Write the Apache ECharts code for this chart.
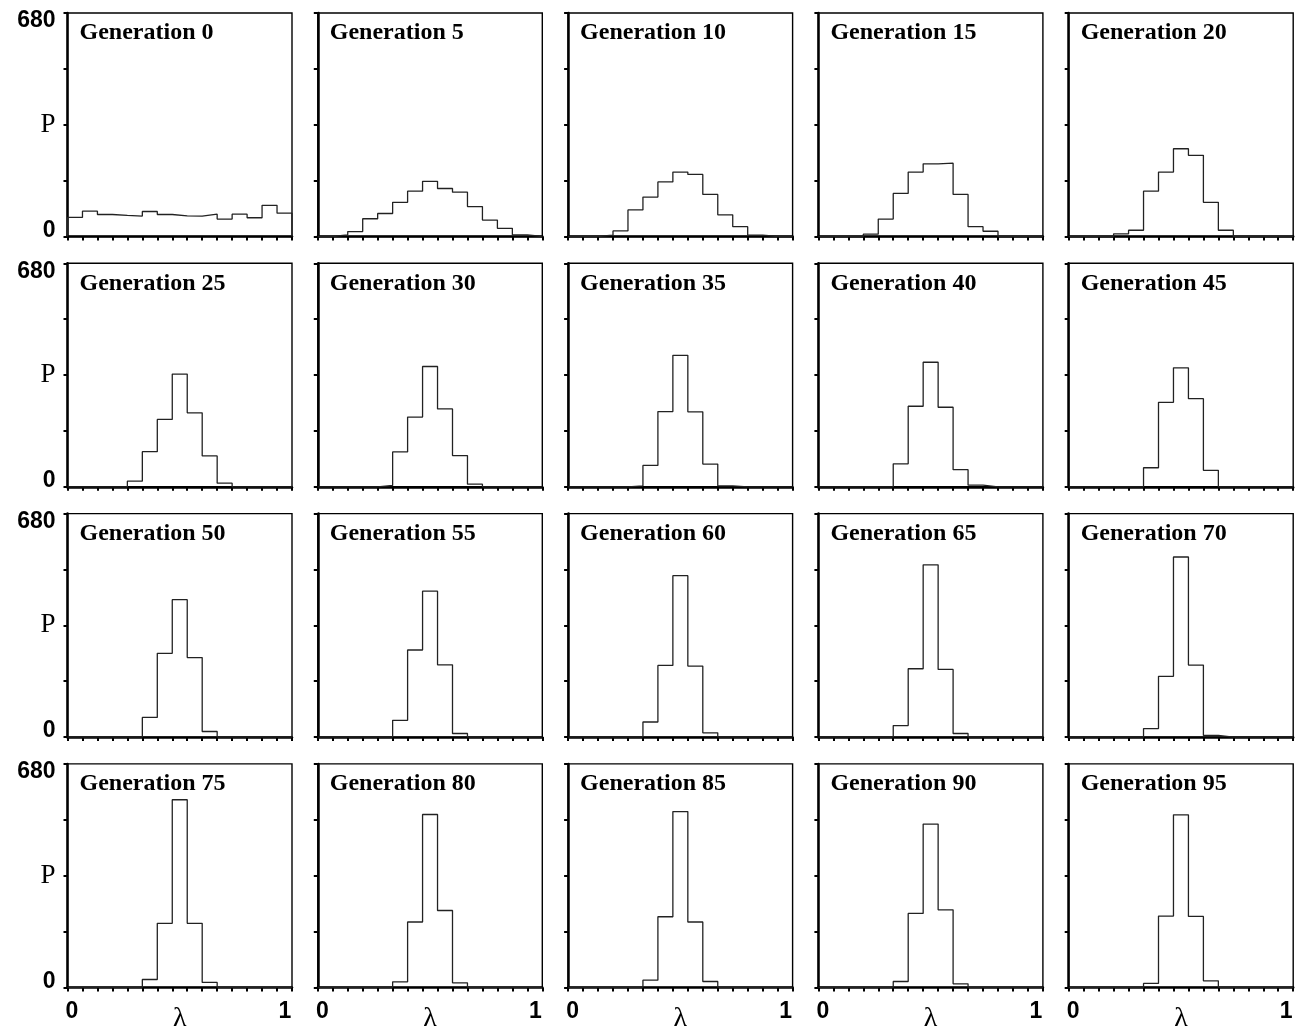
<!DOCTYPE html>
<html><head><meta charset="utf-8">
<script src="https://cdn.jsdelivr.net/npm/echarts@6/dist/echarts.min.js"></script>
<style>html,body{margin:0;padding:0;background:#fff}#c{width:1308px;height:1032px}</style>
</head><body><div id="c"></div>
<script>
// ---- data ----
const generations = [0, 5, 10, 15, 20, 25, 30, 35, 40, 45, 50, 55, 60, 65, 70, 75, 80, 85, 90, 95];
// left edges of the 15 lambda bins (bin width 1/15), right end of last bin = 1
const binLeftEdges = [0/15, 1/15, 2/15, 3/15, 4/15, 5/15, 6/15, 7/15, 8/15, 9/15, 10/15, 11/15, 12/15, 13/15, 14/15];
const binRightEnd = 1;

const gen0  = [58, 77, 67, 64, 62, 76, 67, 63, 62, 68, 53, 68, 57, 95, 71];
const gen5  = [0, 5, 15, 54, 70, 104, 138, 168, 146, 135, 91, 50, 25, 5, 0];
const gen10 = [0, 0, 4, 17, 81, 120, 166, 196, 189, 128, 66, 30, 4, 0, 0];
const gen15 = [0, 0, 0, 7, 53, 131, 196, 221, 223, 128, 30, 16, 0, 0, 0];
const gen20 = [0, 0, 0, 8, 19, 138, 196, 267, 247, 104, 19, 0, 0, 0, 0];
const gen25 = [0, 0, 0, 0, 17, 107, 205, 343, 225, 94, 11, 0, 0, 0, 0];
const gen30 = [0, 0, 0, 0, 4, 106, 212, 366, 237, 95, 8, 0, 0, 0, 0];
const gen35 = [0, 0, 0, 0, 3, 65, 229, 400, 228, 69, 3, 0, 0, 0, 0];
const gen40 = [0, 0, 0, 0, 0, 70, 245, 379, 242, 52, 5, 0, 0, 0, 0];
const gen45 = [0, 0, 0, 0, 0, 58, 257, 362, 268, 50, 0, 0, 0, 0, 0];
const gen50 = [0, 0, 0, 0, 0, 60, 255, 418, 242, 17, 0, 0, 0, 0, 0];
const gen55 = [0, 0, 0, 0, 0, 51, 265, 444, 220, 11, 0, 0, 0, 0, 0];
const gen60 = [0, 0, 0, 0, 0, 46, 218, 491, 216, 13, 0, 0, 0, 0, 0];
const gen65 = [0, 0, 0, 0, 0, 35, 208, 524, 206, 11, 0, 0, 0, 0, 0];
const gen70 = [0, 0, 0, 0, 0, 26, 185, 548, 219, 5, 0, 0, 0, 0, 0];
const gen75 = [0, 0, 0, 0, 0, 24, 195, 571, 195, 15, 0, 0, 0, 0, 0];
const gen80 = [0, 0, 0, 0, 0, 17, 199, 526, 234, 14, 0, 0, 0, 0, 0];
const gen85 = [0, 0, 0, 0, 0, 22, 215, 535, 199, 18, 0, 0, 0, 0, 0];
const gen90 = [0, 0, 0, 0, 0, 18, 225, 497, 236, 11, 0, 0, 0, 0, 0];
const gen95 = [0, 0, 0, 0, 0, 12, 217, 525, 216, 20, 0, 0, 0, 0, 0];

const yMin = 0, yMax = 680, yInterval = 170;
const yTickLabels = { 0: '0', 340: 'P', 680: '680' };
const xTickLabels = ['0', '1'];
const xAxisName = 'λ';
const titlePrefix = 'Generation ';

// ---- layout ----
const panels = [gen0, gen5, gen10, gen15, gen20, gen25, gen30, gen35, gen40, gen45,
                gen50, gen55, gen60, gen65, gen70, gen75, gen80, gen85, gen90, gen95];
const COLS = 5, ROWS = 4;
const left0 = 67.5, colStep = 250.3, top0 = 13, rowStep = 250.3, gw = 224.5, gh = 223.5;

const grids = [], xAxes = [], yAxes = [], series = [], titles = [];
panels.forEach((vals, i) => {
  const r = Math.floor(i / COLS), c = i % COLS;
  const L = left0 + c * colStep, T = top0 + r * rowStep;
  grids.push({ left: L, top: T, width: gw, height: gh, show: true, borderColor: '#000', borderWidth: 1.4,
               backgroundColor: 'transparent', containLabel: false, outerBoundsMode: 'none' });
  const bottomRow = r === ROWS - 1, firstCol = c === 0;
  xAxes.push({
    type: 'value', gridIndex: i, min: 0, max: 1, interval: 1 / 15,
    axisLine: { show: true, onZero: false, lineStyle: { color: '#000', width: 2.5 } },
    axisTick: { show: true, inside: false, length: 4, lineStyle: { color: '#000', width: 2 } },
    splitLine: { show: false },
    axisLabel: {
      show: bottomRow, margin: 13,
      formatter: v => Math.abs(v) < 1e-9 ? '{l|' + xTickLabels[0] + '}' : (Math.abs(v - 1) < 1e-9 ? '{r|' + xTickLabels[1] + '}' : ''),
      rich: {
        l: { fontFamily: 'Liberation Sans', fontWeight: 'bold', fontSize: 23, color: '#000', padding: [0, 0, 0, 9] },
        r: { fontFamily: 'Liberation Sans', fontWeight: 'bold', fontSize: 23, color: '#000', padding: [0, 14, 0, 0] }
      }
    },
    name: bottomRow ? xAxisName : '', nameLocation: 'middle', nameGap: 17, nameMoveOverlap: false,
    nameTextStyle: { fontFamily: 'Liberation Serif', fontSize: 28, color: '#000', verticalAlign: 'top' }
  });
  yAxes.push({
    type: 'value', gridIndex: i, min: yMin, max: yMax, interval: yInterval,
    axisLine: { show: true, lineStyle: { color: '#000', width: 2.5 } },
    axisTick: { show: true, inside: false, length: 4, lineStyle: { color: '#000', width: 2 } },
    splitLine: { show: false },
    axisLabel: {
      show: firstCol, margin: 12,
      formatter: v => {
        const t = yTickLabels[v];
        if (t === undefined) return '';
        if (v === yMax) return '{top|' + t + '}';
        if (v === yMin) return '{bot|' + t + '}';
        return '{p|' + t + '}';
      },
      rich: {
        top: { fontFamily: 'Liberation Sans', fontWeight: 'bold', fontSize: 23, color: '#000', padding: [16, 0, 0, 0] },
        bot: { fontFamily: 'Liberation Sans', fontWeight: 'bold', fontSize: 23, color: '#000', padding: [0, 0, 12, 0] },
        p: { fontFamily: 'Liberation Serif', fontSize: 27, color: '#000' }
      }
    }
  });
  const pts = [[binLeftEdges[0], 0]];
  vals.forEach((v, k) => pts.push([binLeftEdges[k], v]));
  pts.push([binRightEnd, vals[vals.length - 1]]);
  pts.push([binRightEnd, 0]);
  series.push({
    type: 'line', xAxisIndex: i, yAxisIndex: i, data: pts, step: 'end',
    showSymbol: false, symbol: 'none', clip: false, silent: true, animation: false,
    lineStyle: { color: '#222', width: 1.3 }, z: 1
  });
  titles.push({
    text: titlePrefix + generations[i], left: L + 12, top: T + 8, padding: 0,
    textStyle: { fontFamily: 'Liberation Serif', fontWeight: 'bold', fontSize: 24, color: '#000' }
  });
});

const chart = echarts.init(document.getElementById('c'), null, { renderer: 'canvas' });
chart.setOption({
  backgroundColor: '#fff', animation: false,
  title: titles, grid: grids, xAxis: xAxes, yAxis: yAxes, series: series
});
</script>
</body></html>
